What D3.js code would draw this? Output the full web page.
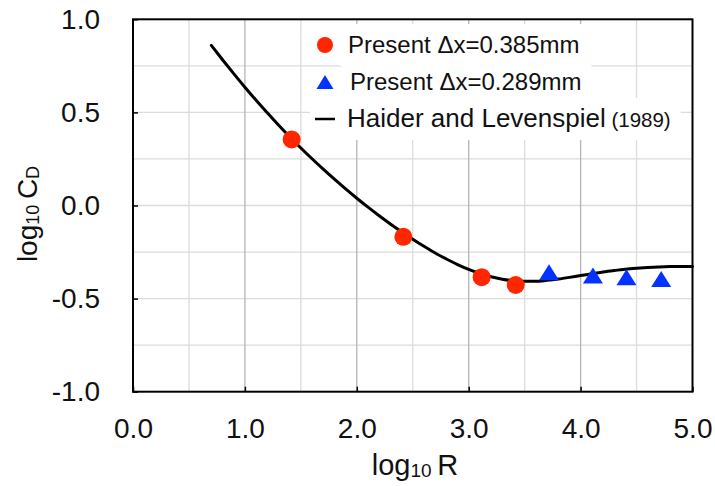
<!DOCTYPE html>
<html>
<head>
<meta charset="utf-8">
<script src="https://cdn.jsdelivr.net/npm/d3@7"></script>
<style>
  html, body { margin: 0; padding: 0; background: #fff; }
  svg { display: block; font-family: "Liberation Sans", Arial, Helvetica, sans-serif; }
</style>
</head>
<body>
<svg id="chart" width="715" height="486"></svg>
<script>
// Drag coefficient vs. Reynolds number (log-log)
const xTicks = [0, 1, 2, 3, 4, 5];
const yTicks = [-1, -0.5, 0, 0.5, 1];
const xGrid = [0.5, 1, 1.5, 2, 2.5, 3, 3.5, 4, 4.5];
const yGrid = [-0.75, -0.5, -0.25, 0, 0.25, 0.5, 0.75];

// Present, Δx = 0.385 mm
const coarseX = [1.418, 2.416, 3.116, 3.42];
const coarseY = [0.355, -0.168, -0.385, -0.427];

// Present, Δx = 0.289 mm
const fineX = [3.718, 4.11, 4.41, 4.72];
const fineY = [-0.358, -0.376, -0.385, -0.395];

// Haider and Levenspiel (1989) correlation
const hlX = [0.7, 0.8, 0.9, 1.0, 1.1, 1.2, 1.3, 1.4, 1.5, 1.6, 1.7, 1.8, 1.9, 2.0, 2.1, 2.2,
             2.3, 2.4, 2.5, 2.6, 2.7, 2.8, 2.9, 3.0, 3.1, 3.2, 3.3, 3.4, 3.5, 3.6, 3.7, 3.8,
             3.9, 4.0, 4.1, 4.2, 4.3, 4.4, 4.5, 4.6, 4.7, 4.8, 4.9, 5.0];
const hlY = [0.860, 0.783, 0.708, 0.635, 0.565, 0.498, 0.432, 0.369, 0.309, 0.251, 0.195,
             0.141, 0.089, 0.039, -0.009, -0.055, -0.099, -0.141, -0.181, -0.219, -0.255,
             -0.287, -0.317, -0.343, -0.365, -0.383, -0.396, -0.404, -0.407, -0.407, -0.402,
             -0.395, -0.386, -0.376, -0.367, -0.357, -0.349, -0.342, -0.337, -0.333, -0.330,
             -0.328, -0.327, -0.327];

const legendLabels = ["Present \u0394x=0.385mm", "Present \u0394x=0.289mm", "Haider and Levenspiel"];
const legendNote = "(1989)";

const RED = "#ff2600", BLUE = "#0433ff";

const svg = d3.select("#chart");
const plotL = 133, plotR = 692.5, plotT = 19.3, plotB = 391.7;

const x = d3.scaleLinear().domain([0, 5]).range([plotL, plotR]);
const y = d3.scaleLinear().domain([-1, 1]).range([plotB, plotT]);

// tick labels with a plain hyphen for negatives
const fmt = d => d3.format(".1f")(d).replace("\u2212", "-");

// grid
const grid = svg.append("g");
grid.selectAll("line.h").data(yGrid).join("line")
  .attr("x1", plotL).attr("x2", plotR)
  .attr("y1", d => y(d)).attr("y2", d => y(d))
  .attr("stroke", "#dcdcdc").attr("stroke-width", 1.3);
grid.selectAll("line.v").data(xGrid).join("line")
  .attr("y1", plotT).attr("y2", plotB)
  .attr("x1", d => x(d)).attr("x2", d => x(d))
  .attr("stroke", d => Number.isInteger(d) ? "#b4b4b4" : "#dcdcdc")
  .attr("stroke-width", 1.3);

// axes with inward ticks
const yAxis = svg.append("g").attr("transform", `translate(${plotL},0)`)
  .call(d3.axisLeft(y).tickValues(yTicks).tickFormat(fmt)
    .tickSizeInner(-5).tickSizeOuter(0).tickPadding(33));
const xAxis = svg.append("g").attr("transform", `translate(0,${plotB})`)
  .call(d3.axisBottom(x).tickValues(xTicks).tickFormat(fmt)
    .tickSizeInner(-5).tickSizeOuter(0).tickPadding(26.5));
[xAxis, yAxis].forEach(a => {
  a.select(".domain").remove();
  a.selectAll(".tick line").attr("stroke", "#000").attr("stroke-width", 1.5);
  a.selectAll(".tick text").attr("font-size", 28).attr("fill", "#111")
    .attr("font-family", "'Liberation Sans', Arial, Helvetica, sans-serif");
});

// plot frame
svg.append("rect")
  .attr("x", plotL).attr("y", plotT)
  .attr("width", plotR - plotL).attr("height", plotB - plotT)
  .attr("fill", "none").attr("stroke", "#000").attr("stroke-width", 2);

// axis titles
const xt = svg.append("text").attr("x", 415).attr("y", 475)
  .attr("text-anchor", "middle").attr("font-size", 29).attr("fill", "#111");
xt.append("tspan").text("log");
xt.append("tspan").attr("font-size", 19).attr("dy", 2).text("10");
xt.append("tspan").attr("dy", -2).text("\u2009R");

const yt = svg.append("text").attr("transform", "translate(37,214) rotate(-90)")
  .attr("text-anchor", "middle").attr("font-size", 28).attr("fill", "#111");
yt.append("tspan").text("log");
yt.append("tspan").attr("font-size", 18).attr("dy", 2).text("10");
yt.append("tspan").attr("dy", -2).text("\u2009C");
yt.append("tspan").attr("font-size", 18).attr("dy", 2).text("D");

// legend
const legend = svg.append("g");
const rowY = [45, 82, 119];
const textX = [348, 350, 347];
const rowFont = [24, 24, 26];
const rows = legend.selectAll("g.row").data(legendLabels).join("g").attr("class", "row");
const texts = rows.append("text")
  .attr("x", (d, i) => textX[i]).attr("y", (d, i) => rowY[i] + 8)
  .attr("font-size", (d, i) => rowFont[i]).attr("fill", "#111")
  .text(d => d);
texts.filter((d, i) => i === 2).append("tspan").attr("font-size", 20.5).text(" " + legendNote);
rows.each(function(d, i) {
  const g = d3.select(this);
  const bb = g.select("text").node().getBBox();
  const x0 = i === 2 ? 310 : bb.x - 8;
  g.insert("rect", "text")
    .attr("x", x0).attr("y", rowY[i] - 21)
    .attr("width", bb.x + bb.width + 10 - x0).attr("height", 42)
    .attr("fill", "#fff");
});

// Haider & Levenspiel curve
const line = d3.line().x(d => x(d[0])).y(d => y(d[1])).curve(d3.curveMonotoneX);
svg.append("path")
  .datum(hlX.map((v, i) => [v, hlY[i]]))
  .attr("d", line)
  .attr("fill", "none").attr("stroke", "#000").attr("stroke-width", 3)
  .attr("stroke-linejoin", "round").attr("stroke-linecap", "round");

// data markers
const tri = (w, h) => `M0,${-h / 2}L${w / 2},${h / 2}L${-w / 2},${h / 2}Z`;
svg.append("g").selectAll("circle").data(coarseX).join("circle")
  .attr("cx", d => x(d)).attr("cy", (d, i) => y(coarseY[i]))
  .attr("r", 9).attr("fill", RED);
svg.append("g").selectAll("path").data(fineX).join("path")
  .attr("transform", (d, i) => `translate(${x(d)},${y(fineY[i])})`)
  .attr("d", tri(20, 16)).attr("fill", BLUE);

// legend symbols
legend.append("circle").attr("cx", 325).attr("cy", rowY[0]).attr("r", 8).attr("fill", RED);
legend.append("path").attr("transform", `translate(325,${rowY[1]})`).attr("d", tri(17, 14)).attr("fill", BLUE);
legend.append("line").attr("x1", 315).attr("x2", 335).attr("y1", rowY[2]).attr("y2", rowY[2])
  .attr("stroke", "#000").attr("stroke-width", 2.5);
</script>
</body>
</html>
